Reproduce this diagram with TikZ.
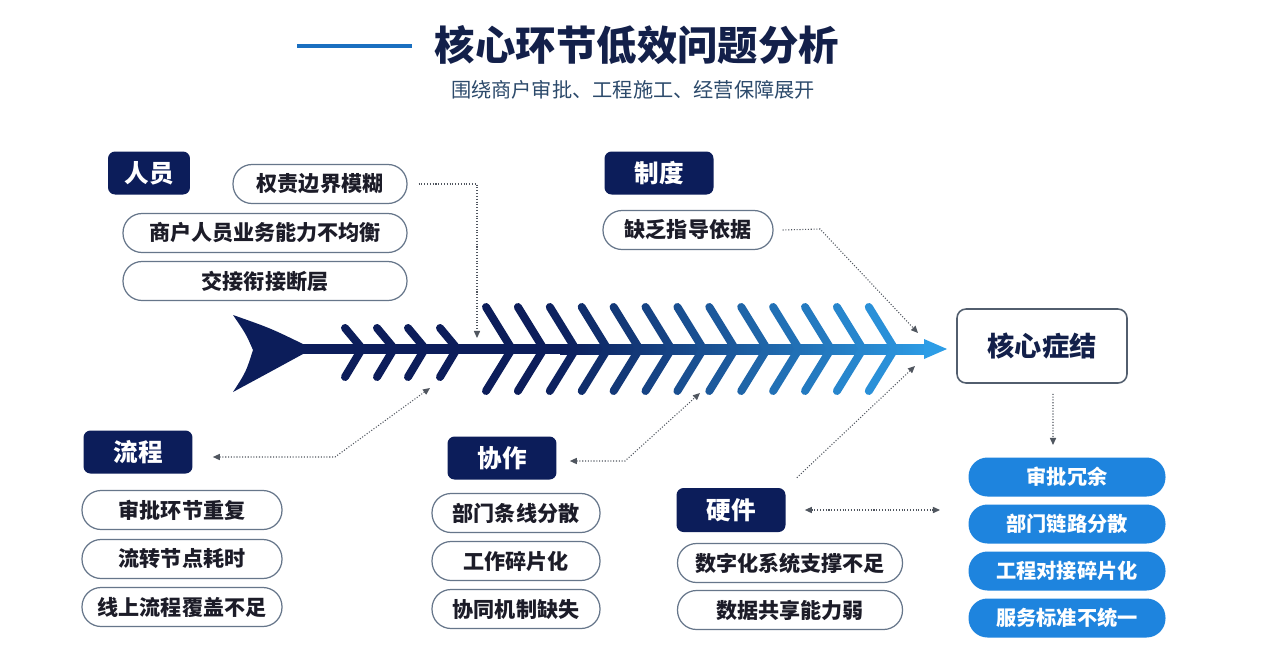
\documentclass[tikz,border=0pt]{standalone}
\usepackage{fontspec}
\setmainfont{Noto Sans CJK SC}
\usetikzlibrary{arrows.meta}
\definecolor{bonenavy}{HTML}{0C1D5A}
\definecolor{bonesky}{HTML}{2D9DE6}
\definecolor{pillblue}{HTML}{1E84DE}
\definecolor{titlenavy}{HTML}{13204A}
\definecolor{subgrey}{HTML}{2C4A6B}
\definecolor{pilltext}{HTML}{1C1C28}
\definecolor{pillline}{HTML}{66768A}
\definecolor{linkgrey}{HTML}{50565F}
\definecolor{titleline}{HTML}{1A6FC0}
\tikzset{
	catbox/.style={fill=bonenavy, text=white, font=\fontsize{14}{16}\selectfont\bfseries, rounded corners=0.14cm, inner sep=0pt, minimum height=0.86cm, minimum width=2.18cm},
	itempill/.style={draw=pillline, line width=0.7pt, fill=white, text=pilltext, font=\fontsize{12}{14}\selectfont\bfseries, rounded corners=0.38cm, inner sep=0pt, minimum height=0.78cm},
	resultpill/.style={fill=pillblue, text=white, font=\fontsize{11.5}{13}\selectfont\bfseries, rounded corners=0.38cm, inner sep=0pt, minimum height=0.78cm, minimum width=3.94cm},
	bone/.style={line width=0.16cm, line cap=round},
	link/.style={densely dotted, draw=linkgrey, line width=0.6pt},
	onetip/.style={-{Triangle[length=4pt,width=3.5pt]}},
	bothtips/.style={{Triangle[length=4pt,width=3.5pt]}-{Triangle[length=4pt,width=3.5pt]}}
}

\begin{document}
\begin{tikzpicture}[x=0.02cm, y=-0.02cm]
	%%%%% START %%%%%
	
	\useasboundingbox (0,0) rectangle (1280,656);
	\fill[white] (0,0) rectangle (1280,656);
	
	% title
	\draw[titleline, line width=0.08cm] (297,46) -- (412,46);
	\node[font=\fontsize{23}{26}\selectfont\bfseries, text=titlenavy] (title) at (637,45) {核心环节低效问题分析};
	\node[font=\fontsize{11.5}{13}\selectfont, text=subgrey] (subtitle) at (633,90) {围绕商户审批、工程施工、经营保障展开};
	
	% fish
	\fill[bonenavy] (233,315) .. controls (270,328) .. (303,344) -- (303,354) .. controls (270,372) .. (233,392) .. controls (246,372) .. (253,350) .. controls (246,334) .. cycle;
	\fill[bonenavy] (290,344) rectangle (561,354);
	\shade[left color=bonenavy, right color=bonesky] (560,344) rectangle (930,354);
	\fill[bonesky] (924,339) -- (947,349) -- (924,359) -- cycle;
	
	\foreach \xs in {360,392,423,455}
		\draw[bone, bonenavy] (\xs-15,328) -- (\xs,346) (\xs,352) -- (\xs-15,377);
	
	\foreach \i in {0,...,12}{
		\pgfmathsetmacro\xs{510+31.9*\i}
		\pgfmathtruncatemacro\pct{max(0,min(100,(930-\xs)/3.7))}
		\draw[bone, bonenavy!\pct!bonesky] (\xs-24,307) -- (\xs,346) (\xs,352) -- (\xs-24,391);
	}
	
	% 人员
	\node[catbox, minimum width=1.64cm] (ry) at (149,173) {人员};
	\node[itempill, minimum width=3.48cm] (ry1) at (320,184) {权责边界模糊};
	\node[itempill, minimum width=5.68cm] (ry2) at (265,233) {商户人员业务能力不均衡};
	\node[itempill, minimum width=5.68cm] (ry3) at (265,281) {交接衔接断层};
	
	% 制度
	\node[catbox] (zd) at (659,173) {制度};
	\node[itempill, minimum width=3.4cm] (zd1) at (688,230) {缺乏指导依据};
	
	% 流程
	\node[catbox] (lc) at (138,452) {流程};
	\node[itempill, minimum width=4cm] (lc1) at (182,510) {审批环节重复};
	\node[itempill, minimum width=4cm] (lc2) at (182,559) {流转节点耗时};
	\node[itempill, minimum width=4cm] (lc3) at (182,607) {线上流程覆盖不足};
	
	% 协作
	\node[catbox] (xz) at (502,458) {协作};
	\node[itempill, minimum width=3.36cm] (xz1) at (516,513) {部门条线分散};
	\node[itempill, minimum width=3.36cm] (xz2) at (516,561) {工作碎片化};
	\node[itempill, minimum width=3.36cm] (xz3) at (516,609) {协同机制缺失};
	
	% 硬件
	\node[catbox, minimum height=0.88cm] (yj) at (731,510) {硬件};
	\node[itempill, minimum width=4.5cm] (yj1) at (790,563) {数字化系统支撑不足};
	\node[itempill, minimum width=4.5cm] (yj2) at (790,610) {数据共享能力弱};
	
	% 核心症结
	\node[draw=pillline!80!black, line width=0.9pt, fill=white, text=titlenavy, font=\fontsize{15.5}{18}\selectfont\bfseries, rounded corners=0.18cm, inner sep=0pt, minimum width=3.4cm, minimum height=1.48cm] (core) at (1042,346) {核心症结};
	\node[resultpill] (res1) at (1067,477) {审批冗余};
	\node[resultpill] (res2) at (1067,524) {部门链路分散};
	\node[resultpill] (res3) at (1067,571) {工程对接碎片化};
	\node[resultpill] (res4) at (1067,618) {服务标准不统一};
	
	% connectors
	\coordinate (ry-bend) at (477,184);
	\coordinate (ry-end) at (477,338);
	\draw[link, onetip] ([xshift=0.22cm]ry1.east) -- (ry-bend) -- (ry-end);
	
	\coordinate (zd-bend) at (820,229);
	\coordinate (zd-end) at (918,333);
	\draw[link, onetip] ([xshift=0.18cm]zd1.east) -- (zd-bend) -- (zd-end);
	
	\coordinate (lc-bend) at (335,457);
	\coordinate (lc-end) at (430,388);
	\draw[link, bothtips] ([xshift=0.4cm,yshift=-0.1cm]lc.east) -- (lc-bend) -- (lc-end);
	
	\coordinate (xz-bend) at (625,461);
	\coordinate (xz-end) at (700,393);
	\draw[link, bothtips] ([xshift=0.26cm,yshift=-0.06cm]xz.east) -- (xz-bend) -- (xz-end);
	
	\coordinate (yj-end) at (915,366);
	\draw[link, onetip] ([xshift=0.22cm,yshift=0.2cm]yj.north east) -- (yj-end);
	
	\coordinate (yj-right) at (940,510);
	\draw[link, bothtips] ([xshift=0.38cm]yj.east) -- (yj-right);
	
	\coordinate (core-end) at (1053,445);
	\draw[link, onetip] ([xshift=0.22cm,yshift=-0.2cm]core.south) -- (core-end);
	
	%%%%% END %%%%%
\end{tikzpicture}
\end{document}
